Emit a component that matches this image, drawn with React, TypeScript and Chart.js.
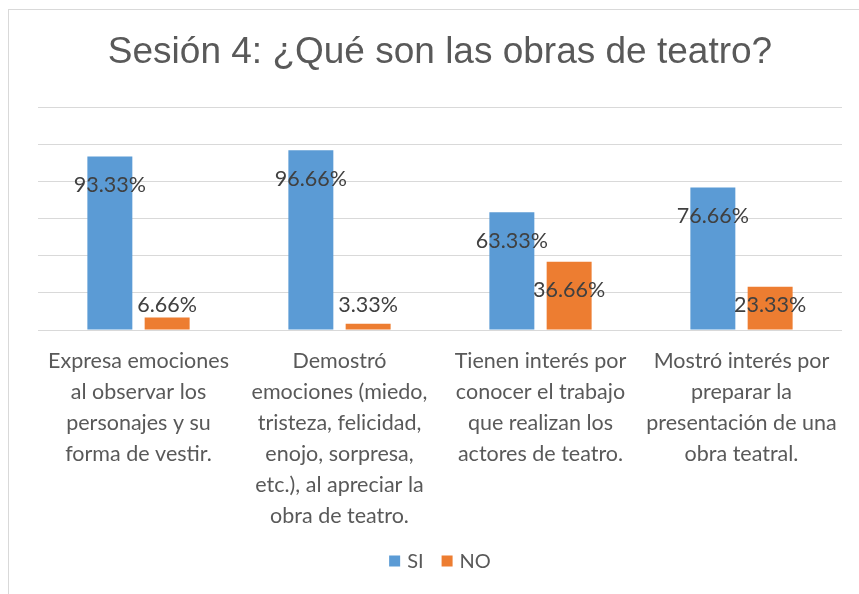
import React, { useEffect, useRef } from "react";
import { Chart, registerables } from "chart.js";

Chart.register(...registerables);

const TITLE = "Sesión 4: ¿Qué son las obras de teatro?";
const categories: string[][] = [
  ["Expresa emociones", "al observar los", "personajes y su", "forma de vestir."],
  ["Demostró", "emociones (miedo,", "tristeza, felicidad,", "enojo, sorpresa,", "etc.), al apreciar la", "obra de teatro."],
  ["Tienen interés por", "conocer el trabajo", "que realizan los", "actores de teatro."],
  ["Mostró interés por", "preparar la", "presentación de una", "obra teatral."],
];
const seriesNames = ["SI", "NO"];
const siValues = [93.33, 96.66, 63.33, 76.66];
const noValues = [6.66, 3.33, 36.66, 23.33];
const colors = ["#5B9BD5", "#ED7D31"];
const yMax = 120;
const yStep = 20;

const LABEL_FONT = "Lato";
const TEXT_COLOR = "#595959";

const dataLabelPlugin = {
  id: "dataLabels",
  afterDatasetsDraw(chart: any) {
    const ctx = chart.ctx;
    const bottom = chart.chartArea.bottom;
    ctx.save();
    ctx.font = `21.5px ${LABEL_FONT}`;
    ctx.fillStyle = "#404040";
    ctx.textAlign = "center";
    ctx.textBaseline = "middle";
    chart.data.datasets.forEach((ds: any, di: number) => {
      const meta = chart.getDatasetMeta(di);
      meta.data.forEach((bar: any, i: number) => {
        const v = ds.data[i] as number;
        const y = Math.min(bar.y + 28.5, bottom - 24.5);
        ctx.fillText(v.toFixed(2) + "%", bar.x, y);
      });
    });
    ctx.restore();
  },
};

const legendPlugin = {
  id: "customLegend",
  afterDraw(chart: any) {
    const ctx = chart.ctx;
    ctx.save();
    ctx.font = `20px ${LABEL_FONT}`;
    ctx.textBaseline = "middle";
    ctx.textAlign = "left";
    const box = 11;
    const gap = 7;
    const itemGap = 18;
    const widths = seriesNames.map((n) => ctx.measureText(n).width);
    const total =
      widths.reduce((a: number, w: number) => a + box + gap + w, 0) + itemGap * (seriesNames.length - 1);
    const cx = (chart.chartArea.left + chart.chartArea.right) / 2;
    let x = cx - total / 2;
    const cy = 551;
    seriesNames.forEach((n, i) => {
      ctx.fillStyle = colors[i];
      ctx.fillRect(x, cy - box / 2, box, box);
      x += box + gap;
      ctx.fillStyle = TEXT_COLOR;
      ctx.fillText(n, x, cy + 1);
      x += widths[i] + itemGap;
    });
    ctx.restore();
  },
};

export default function App() {
  const ref = useRef<HTMLCanvasElement | null>(null);
  useEffect(() => {
    if (!ref.current) return;
    const chart = new Chart(ref.current, {
      type: "bar",
      data: {
        labels: categories,
        datasets: [
          {
            label: seriesNames[0],
            data: siValues,
            backgroundColor: colors[0],
            categoryPercentage: 0.57,
            barPercentage: 0.785,
          },
          {
            label: seriesNames[1],
            data: noValues,
            backgroundColor: colors[1],
            categoryPercentage: 0.57,
            barPercentage: 0.785,
          },
        ],
      },
      options: {
        responsive: false,
        animation: false,
        layout: { padding: { left: 29, right: 17, top: 0, bottom: 0 } },
        plugins: {
          legend: { display: false },
          tooltip: { enabled: false },
          title: {
            display: true,
            text: TITLE,
            color: TEXT_COLOR,
            font: { family: "Liberation Sans", size: 37, weight: "normal", lineHeight: 1.2 },
            padding: { top: 21, bottom: 31.6 },
          },
        },
        scales: {
          x: {
            grid: { display: false, drawTicks: false },
            border: { display: false },
            ticks: {
              color: TEXT_COLOR,
              font: { family: LABEL_FONT, size: 21.5, lineHeight: "31px" },
              padding: 16,
              maxRotation: 0,
              autoSkip: false,
            },
            afterFit(scale: any) {
              scale.height = 264;
            },
          },
          y: {
            min: 0,
            max: yMax,
            ticks: { display: false, stepSize: yStep },
            grid: { color: "#D9D9D9", lineWidth: 1, drawTicks: false },
            border: { display: false },
          },
        },
      },
      plugins: [dataLabelPlugin, legendPlugin],
    });
    return () => chart.destroy();
  }, []);

  return (
    <div
      style={{
        position: "fixed",
        left: 8,
        top: 9,
        width: 850,
        height: 584,
        borderLeft: "1px solid #D9D9D9",
        borderTop: "1px solid #D9D9D9",
        background: "#fff",
      }}
    >
      <canvas ref={ref} width={850} height={584} style={{ width: 850, height: 584, display: "block" }} />
    </div>
  );
}
